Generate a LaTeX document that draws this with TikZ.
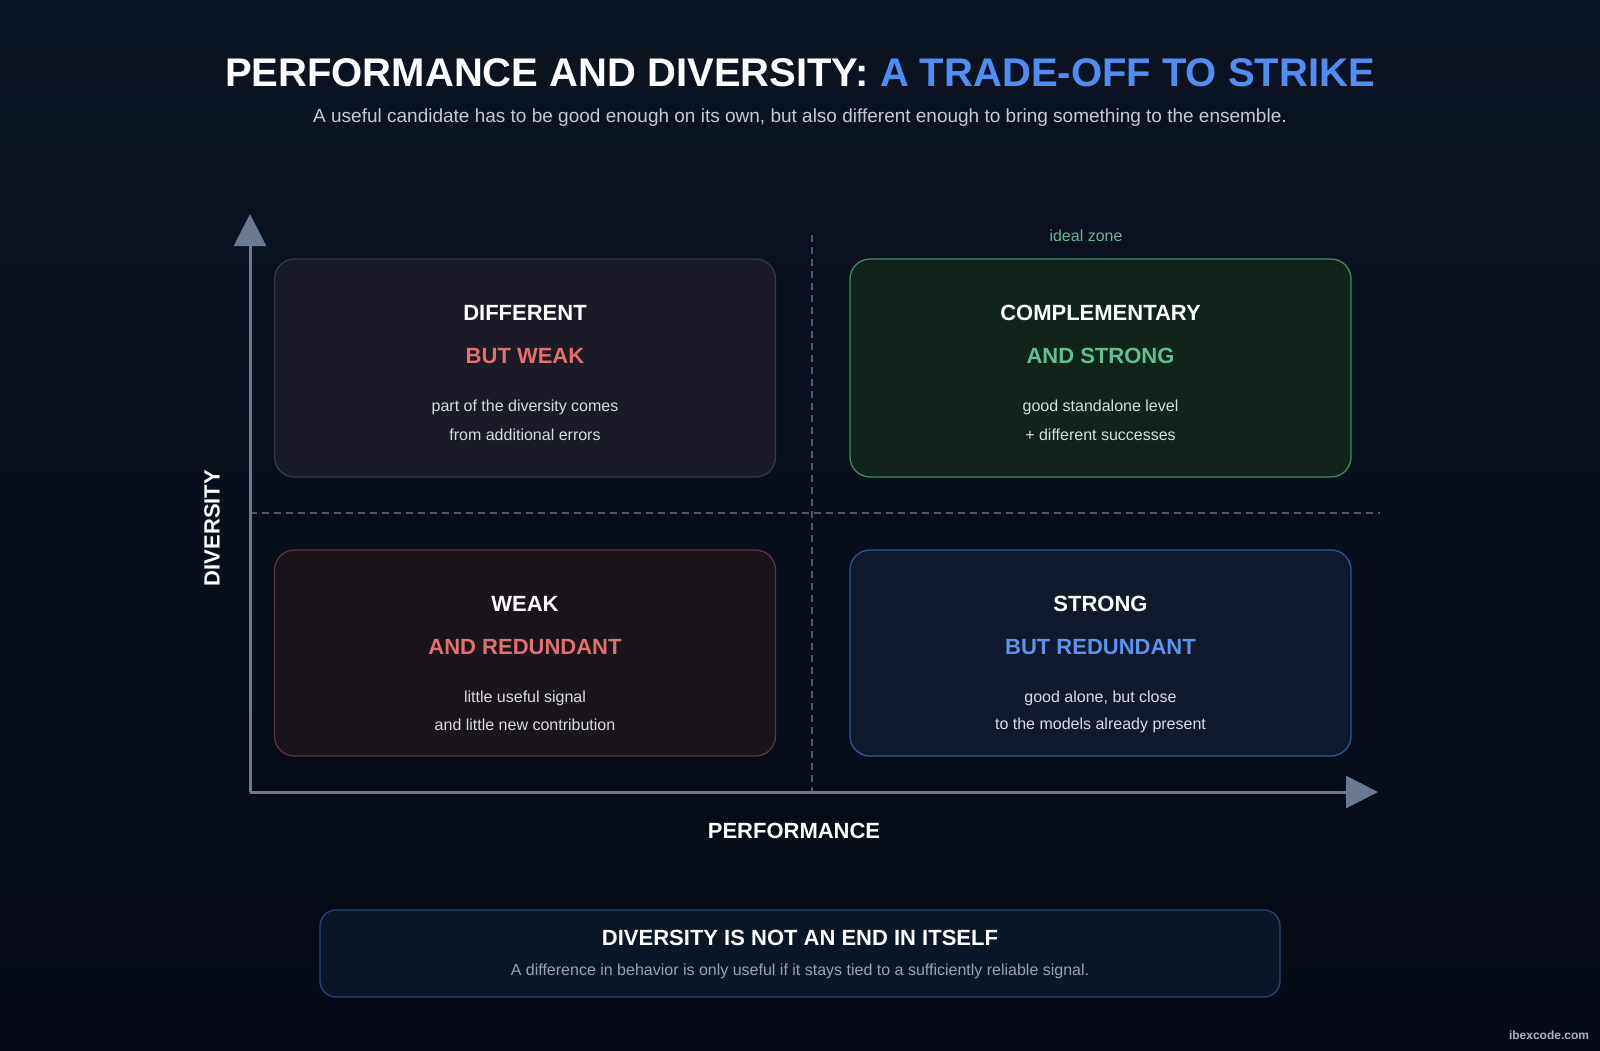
\documentclass[tikz,border=0pt]{standalone}
\usepackage{fontspec}
\setmainfont{Liberation Sans}
\usetikzlibrary{arrows.meta}
\definecolor{bgtop}{HTML}{0B1422}
\definecolor{bgbot}{HTML}{050A14}
\definecolor{titleblue}{HTML}{4F8FF5}
\definecolor{subgrey}{HTML}{C4CAD3}
\definecolor{axiscol}{HTML}{6B7A93}
\definecolor{dashcol}{HTML}{4B5870}
\definecolor{bodycol}{HTML}{D8DCE3}
\definecolor{redtxt}{HTML}{E46F6F}
\definecolor{greentxt}{HTML}{62C08E}
\definecolor{bluetxt}{HTML}{5B93EF}
\definecolor{idealcol}{HTML}{6DB393}
\definecolor{tlfill}{HTML}{1A1B26}
\definecolor{tldraw}{HTML}{363B48}
\definecolor{trfill}{HTML}{10241C}
\definecolor{trdraw}{HTML}{3F8A64}
\definecolor{blfill}{HTML}{1A151B}
\definecolor{bldraw}{HTML}{5E343E}
\definecolor{brfill}{HTML}{111A2C}
\definecolor{brdraw}{HTML}{2F5597}
\definecolor{botfill}{HTML}{0B1626}
\definecolor{botdraw}{HTML}{27467A}
\definecolor{botsub}{HTML}{98A2B3}
\definecolor{markcol}{HTML}{AAB3C0}
\tikzset{
  quadbox/.style={rectangle, rounded corners=20pt, line width=1.3pt, minimum width=501pt, inner sep=0pt},
  headtxt/.style={font=\fontsize{22}{26}\selectfont\bfseries, text=white, inner sep=0pt},
  subhead/.style={font=\fontsize{22}{26}\selectfont\bfseries, inner sep=0pt},
  bodytxt/.style={font=\fontsize{16}{19}\selectfont, text=bodycol, inner sep=0pt},
  axisline/.style={draw=axiscol, line width=3pt},
  guide/.style={draw=dashcol, line width=1.5pt, dash pattern=on 7pt off 5pt},
  axislabel/.style={font=\fontsize{22}{26}\selectfont\bfseries, text=white, inner sep=0pt}
}
\begin{document}
\begin{tikzpicture}[x=1pt,y=-1pt]
\useasboundingbox (0,0) rectangle (1600,1050);
\fill[top color=bgtop, bottom color=bgbot] (0,0) rectangle (1600,1050);

% title
\node[inner sep=0pt, font=\fontsize{40}{48}\selectfont\bfseries] (title) at (800,73)
  {\textcolor{white}{PERFORMANCE AND DIVERSITY:} \textcolor{titleblue}{A TRADE-OFF TO STRIKE}};
\node[inner sep=0pt, font=\fontsize{19}{23}\selectfont, text=subgrey] (subtitle) at (800,118)
  {A useful candidate has to be good enough on its own, but also different enough to bring something to the ensemble.};

% axes and guides
\coordinate (origin) at (250,792);
\coordinate (ytop) at (250,214);
\coordinate (xend) at (1378,792);
\coordinate (hl) at (250,513);
\coordinate (hr) at (1380,513);
\coordinate (vt) at (812,235);
\coordinate (vb) at (812,792);
\draw[guide] (hl) -- (hr);
\draw[guide] (vt) -- (vb);
\draw[axisline, -{Triangle[length=32pt,width=32pt]}] (origin) -- (ytop);
\draw[axisline, -{Triangle[length=32pt,width=32pt]}] (origin) -- (xend);

\node[axislabel, rotate=90] (ylab) at (212,528) {DIVERSITY};
\node[axislabel] (xlab) at (794,831) {PERFORMANCE};

% quadrants
\node[quadbox, fill=tlfill, draw=tldraw, minimum height=218pt] (tl) at (525,368) {};
\node[quadbox, fill=trfill, draw=trdraw, minimum height=218pt] (tr) at (1100.5,368) {};
\node[quadbox, fill=blfill, draw=bldraw, minimum height=206pt] (bl) at (525,653) {};
\node[quadbox, fill=brfill, draw=brdraw, minimum height=206pt] (br) at (1100.5,653) {};

\node[font=\fontsize{16}{19}\selectfont, text=idealcol, inner sep=0pt] (ideal) at (1086,236) {ideal zone};

% top-left
\node[headtxt] (tlh) at ([yshift=55pt]tl.center) {DIFFERENT};
\node[subhead, text=redtxt] (tls) at ([yshift=12pt]tl.center) {BUT WEAK};
\node[bodytxt] (tlb1) at ([yshift=-39pt]tl.center) {part of the diversity comes};
\node[bodytxt] (tlb2) at ([yshift=-67pt]tl.center) {from additional errors};

% top-right
\node[headtxt] (trh) at ([yshift=55pt]tr.center) {COMPLEMENTARY};
\node[subhead, text=greentxt] (trs) at ([yshift=12pt]tr.center) {AND STRONG};
\node[bodytxt] (trb1) at ([yshift=-39pt]tr.center) {good standalone level};
\node[bodytxt] (trb2) at ([yshift=-67pt]tr.center) {+ different successes};

% bottom-left
\node[headtxt] (blh) at ([yshift=49pt]bl.center) {WEAK};
\node[subhead, text=redtxt] (bls) at ([yshift=6pt]bl.center) {AND REDUNDANT};
\node[bodytxt] (blb1) at ([yshift=-45pt]bl.center) {little useful signal};
\node[bodytxt] (blb2) at ([yshift=-72pt]bl.center) {and little new contribution};

% bottom-right
\node[headtxt] (brh) at ([yshift=49pt]br.center) {STRONG};
\node[subhead, text=bluetxt] (brs) at ([yshift=6pt]br.center) {BUT REDUNDANT};
\node[bodytxt] (brb1) at ([yshift=-45pt]br.center) {good alone, but close};
\node[bodytxt] (brb2) at ([yshift=-72pt]br.center) {to the models already present};

% bottom note
\node[rectangle, rounded corners=16pt, fill=botfill, draw=botdraw, line width=1.3pt, minimum width=960pt, minimum height=87pt, inner sep=0pt] (note) at (800,953.5) {};
\node[headtxt] (noteh) at (800,937.5) {DIVERSITY IS NOT AN END IN ITSELF};
\node[font=\fontsize{16}{19}\selectfont, text=botsub, inner sep=0pt] (notes) at (800,971) {A difference in behavior is only useful if it stays tied to a sufficiently reliable signal.};

\node[font=\fontsize{12}{14}\selectfont\bfseries, text=markcol, inner sep=0pt] (mark) at (1549,1035) {ibexcode.com};
\end{tikzpicture}
\end{document}
